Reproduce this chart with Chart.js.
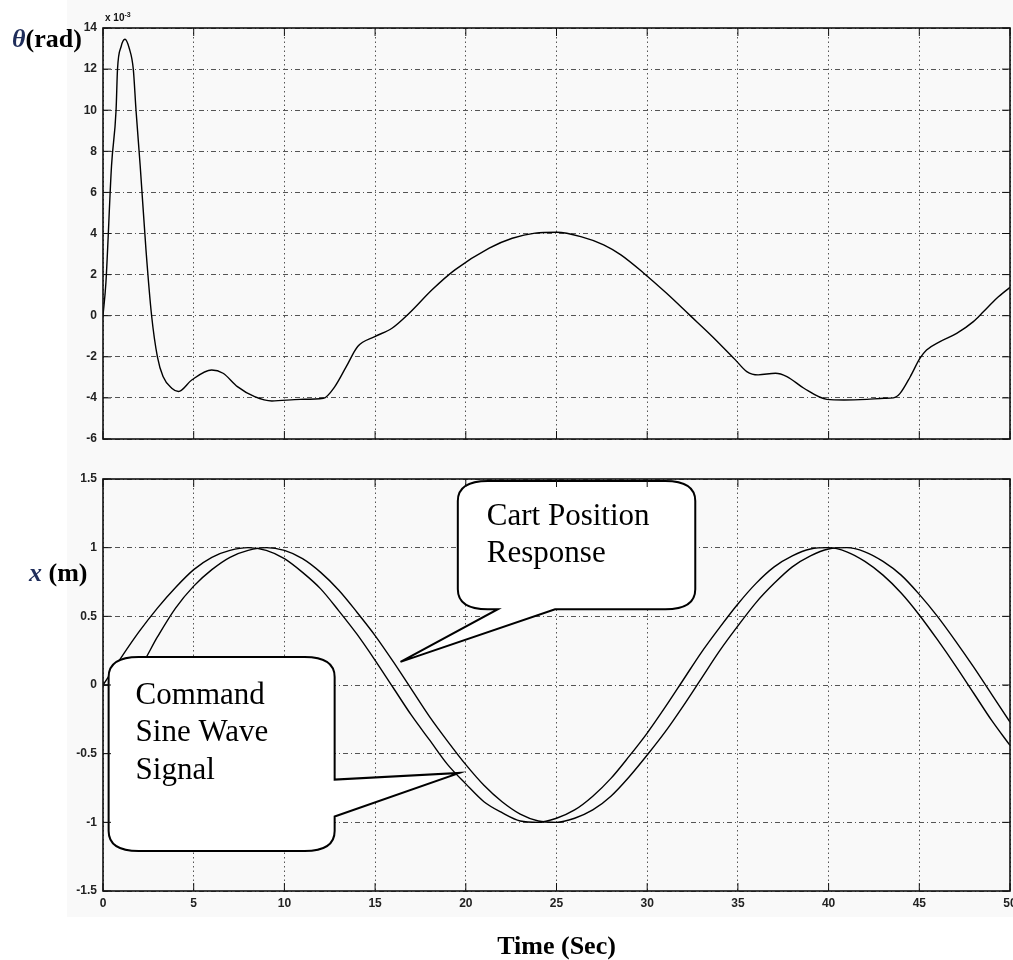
<!DOCTYPE html>
<html>
<head>
<meta charset="utf-8">
<script src="https://cdn.jsdelivr.net/npm/chart.js@4.4.0/dist/chart.umd.min.js"></script>
<style>
body{margin:0;background:#fff;width:1013px;height:960px;overflow:hidden;position:relative;font-family:"Liberation Serif","Times New Roman",serif}
#fig{position:absolute;left:67px;top:0;width:946px;height:917px;background:#f9f9f9}
canvas{position:absolute;left:0;top:0}
.lab{position:absolute;font-weight:bold;font-size:26px;line-height:1;white-space:nowrap;color:#000}
.sym{font-style:italic;color:#1f2d5a}
#scale{position:absolute;left:105px;top:11px;font:bold 10px "Liberation Sans",Arial,sans-serif;color:#111}
#scale sup{font-size:7px}
</style>
</head>
<body>
<div id="fig"></div>
<canvas id="thetaChart" width="1013" height="960"></canvas>
<canvas id="cartChart" width="1013" height="960"></canvas>
<div class="lab" style="left:12px;top:26px"><span class="sym">θ</span>(rad)</div>
<div class="lab" style="left:29px;top:560px"><span class="sym">x</span> (m)</div>
<div id="scale">x 10<sup>-3</sup></div>

<script>
// D O N N E E S - - - - - - - - - - - - - - - - - - - - - - - - - - - -

// angle du pendule (x 10^-3 rad)
let thetaT= [0, 0.16, 0.47, 0.72, 0.8, 1.0, 1.21, 1.45, 1.67, 1.82,
             2.05, 2.37, 2.68, 3.0, 3.31, 3.79, 4.16, 4.89, 5.99, 6.62,
             7.41, 8.36, 9.31, 10.88, 12.15, 12.78, 13.41, 14.04, 14.98, 15.93,
             16.88, 18.14, 19.4, 21.29, 22.56, 23.82, 25.02, 26.34, 27.6, 28.55,
             29.81, 31.07, 32.33, 33.6, 34.86, 35.49, 36.12, 37.07, 37.7, 38.64,
             39.91, 40.85, 42.11, 43.06, 43.57, 43.94, 44.5, 45.04, 45.4, 46.14,
             47.06, 47.98, 48.53, 49.27, 50];
let thetaV= [0, 1.6, 7.3, 10.0, 12.0, 13.1, 13.45, 13.0, 12.0, 10.0,
             7.3, 3.2, 0.0, -2.0, -2.96, -3.53, -3.69, -3.13, -2.64, -2.8,
             -3.45, -3.94, -4.15, -4.07, -4.02, -3.45, -2.48, -1.5, -1.02, -0.61,
             0.12, 1.26, 2.23, 3.29, 3.77, 4.02, 4.06, 3.85, 3.45, 2.96,
             2.07, 1.09, 0.04, -1.02, -2.15, -2.72, -2.88, -2.8, -2.96, -3.53,
             -4.07, -4.1, -4.07, -4.02, -4.0, -3.78, -2.97, -2.07, -1.67, -1.26,
             -0.86, -0.29, 0.19, 0.85, 1.38];

// position du chariot (m), une valeur par seconde
let timeSec= [0,1,2,3,4,5,6,7,8,9,10,11,12,13,14,15,16,17,18,19,20,21,22,23,24,25,
              26,27,28,29,30,31,32,33,34,35,36,37,38,39,40,41,42,43,44,45,46,47,48,49,50];
let commandX= [0, 0.20, 0.39, 0.56, 0.71, 0.84, 0.93, 0.98, 1.00, 0.98, 0.92,
               0.82, 0.70, 0.54, 0.37, 0.18, -0.02, -0.22, -0.40, -0.58, -0.72,
               -0.85, -0.93, -0.99, -1.00, -0.97, -0.91, -0.81, -0.68, -0.52, -0.35,
               -0.16, 0.04, 0.24, 0.42, 0.59, 0.74, 0.86, 0.94, 0.99, 1.00,
               0.97, 0.90, 0.80, 0.67, 0.51, 0.33, 0.14, -0.06, -0.26, -0.44];
let cartX= [0, 0.01, 0.12, 0.35, 0.56, 0.72, 0.84, 0.93, 0.98, 1.00, 0.98,
            0.92, 0.82, 0.69, 0.53, 0.36, 0.17, -0.03, -0.23, -0.41, -0.58,
            -0.73, -0.85, -0.94, -0.99, -1.00, -0.97, -0.91, -0.81, -0.67, -0.51,
            -0.34, -0.15, 0.05, 0.25, 0.43, 0.60, 0.74, 0.86, 0.94, 0.99,
            1.00, 0.97, 0.90, 0.80, 0.66, 0.50, 0.32, 0.13, -0.07, -0.27];

// bulles (en coordonnees du graphique)
let cartNote= {t0:19.56, t1:32.65, v0:0.552, v1:1.485, baseA:21.77, baseB:24.92, tipT:16.4, tipV:0.168,
               lines:["Cart Position","Response"]};
let cmdNote= {t0:0.31, t1:12.77, v0:-1.208, v1:0.204, baseA:-0.689, baseB:-0.958, tipT:19.65, tipV:-0.64,
              lines:["Command","Sine Wave","Signal"]};

// S T Y L E S - - - - - - - - - - - - - - - - - - - - - - - - - - - -
let tickFont= {family:'"Liberation Sans", Arial, sans-serif', weight:'bold', size:12};

function xAxis(showLabels, h){
    return {
        type:'linear', min:0, max:50,
        ticks:{display:showLabels, stepSize:5, padding:5, color:'#222', font:tickFont, maxRotation:0},
        grid:{color:'#555', lineWidth:1, drawTicks:false},
        border:{display:false, dash:[1.5,3]},
        afterFit: function(s){ s.paddingLeft=0; s.paddingRight=0; s.height=h; }
    };
}
function yAxis(min, max, step){
    return {
        min:min, max:max,
        ticks:{stepSize:step, padding:6, color:'#222', font:tickFont,
               callback: function(v){ return String(Math.round(v*10)/10); }},   // 1 et non 1.0 (comme matlab)
        grid:{color:'#555', lineWidth:1, drawTicks:false},
        border:{display:false, dash:[5,3,1,3]},
        afterFit: function(s){ s.width=103; }
    };
}
function lineSet(data){
    return {data:data, borderColor:'#000', borderWidth:1.4, pointRadius:0, fill:false,
            cubicInterpolationMode:'monotone'};
}

// cadre + graduations interieures (comme matlab)
let frame= {
    id:'frame',
    afterDraw: function(chart){
        let ctx= chart.ctx, a= chart.chartArea, sx= chart.scales.x, sy= chart.scales.y;
        ctx.save();
        ctx.strokeStyle='#111';
        ctx.lineWidth=1;
        ctx.beginPath();
        sx.ticks.forEach(function(t){
            let p= sx.getPixelForValue(t.value);
            ctx.moveTo(p, a.bottom); ctx.lineTo(p, a.bottom-8);
            ctx.moveTo(p, a.top); ctx.lineTo(p, a.top+8);
        });
        sy.ticks.forEach(function(t){
            let p= sy.getPixelForValue(t.value);
            ctx.moveTo(a.left, p); ctx.lineTo(a.left+8, p);
            ctx.moveTo(a.right, p); ctx.lineTo(a.right-8, p);
        });
        ctx.stroke();
        ctx.lineWidth=1.6;
        ctx.strokeRect(a.left, a.top, a.right-a.left, a.bottom-a.top);
        ctx.restore();
    }
};

// bulles de texte
function drawNote(ctx, sx, sy, n, side){
    let L= sx.getPixelForValue(n.t0), R= sx.getPixelForValue(n.t1);
    let T= sy.getPixelForValue(n.v1), B= sy.getPixelForValue(n.v0);
    let tx= sx.getPixelForValue(n.tipT), ty= sy.getPixelForValue(n.tipV);
    let rx=30, ry=20;
    ctx.beginPath();
    ctx.moveTo(L+rx, T);
    ctx.lineTo(R-rx, T);
    ctx.quadraticCurveTo(R, T, R, T+ry);
    if(side==='right'){
        ctx.lineTo(R, sy.getPixelForValue(n.baseA));
        ctx.lineTo(tx, ty);
        ctx.lineTo(R, sy.getPixelForValue(n.baseB));
    }
    ctx.lineTo(R, B-ry);
    ctx.quadraticCurveTo(R, B, R-rx, B);
    if(side==='bottom'){
        ctx.lineTo(sx.getPixelForValue(n.baseB), B);
        ctx.lineTo(tx, ty);
        ctx.lineTo(sx.getPixelForValue(n.baseA), B);
    }
    ctx.lineTo(L+rx, B);
    ctx.quadraticCurveTo(L, B, L, B-ry);
    ctx.lineTo(L, T+ry);
    ctx.quadraticCurveTo(L, T, L+rx, T);
    ctx.closePath();
    ctx.fillStyle='#fff';
    ctx.fill();
    ctx.lineWidth=2;
    ctx.strokeStyle='#000';
    ctx.stroke();
    ctx.fillStyle='#000';
    ctx.font='31px "Liberation Serif", "Times New Roman", serif';
    ctx.textBaseline='alphabetic';
    ctx.textAlign='left';
    let top0= side==='bottom' ? 44 : 47;
    n.lines.forEach(function(txt, i){
        ctx.fillText(txt, L+(side==='bottom'?29:27), T+top0+i*37.3);
    });
}
let notes= {
    id:'notes',
    afterDatasetsDraw: function(chart){
        let ctx= chart.ctx;
        ctx.save();
        drawNote(ctx, chart.scales.x, chart.scales.y, cartNote, 'bottom');
        drawNote(ctx, chart.scales.x, chart.scales.y, cmdNote, 'right');
        ctx.restore();
    }
};

// G R A P H I Q U E   U N  (angle) - - - - - - - - - - - - - - - - - -
let thetaData= thetaT.map(function(t, i){ return {x:t, y:thetaV[i]}; });

new Chart(document.getElementById('thetaChart'), {
    type:'line',
    data:{datasets:[lineSet(thetaData)]},
    options:{
        responsive:false, animation:false,
        layout:{padding:{left:0, right:3, top:28, bottom:521}},
        plugins:{legend:{display:false}, tooltip:{enabled:false}},
        scales:{x:xAxis(false, 0), y:yAxis(-6, 14, 2)}
    },
    plugins:[frame]
});

// G R A P H I Q U E   D E U X  (chariot) - - - - - - - - - - - - - - -
let cmdData= timeSec.map(function(t, i){ return {x:t, y:commandX[i]}; });
let cartData= timeSec.map(function(t, i){ return {x:t, y:cartX[i]}; });

let x2= xAxis(true, 69);
x2.title= {display:true, text:'Time (Sec)', color:'#000', padding:0,
           font:{family:'"Liberation Serif", "Times New Roman", serif', weight:'bold', size:26, lineHeight:1}};

new Chart(document.getElementById('cartChart'), {
    type:'line',
    data:{datasets:[lineSet(cmdData), lineSet(cartData)]},
    options:{
        responsive:false, animation:false,
        layout:{padding:{left:0, right:3, top:479, bottom:0}},
        plugins:{legend:{display:false}, tooltip:{enabled:false}},
        scales:{x:x2, y:yAxis(-1.5, 1.5, 0.5)}
    },
    plugins:[notes, frame]
});
</script>
</body>
</html>
